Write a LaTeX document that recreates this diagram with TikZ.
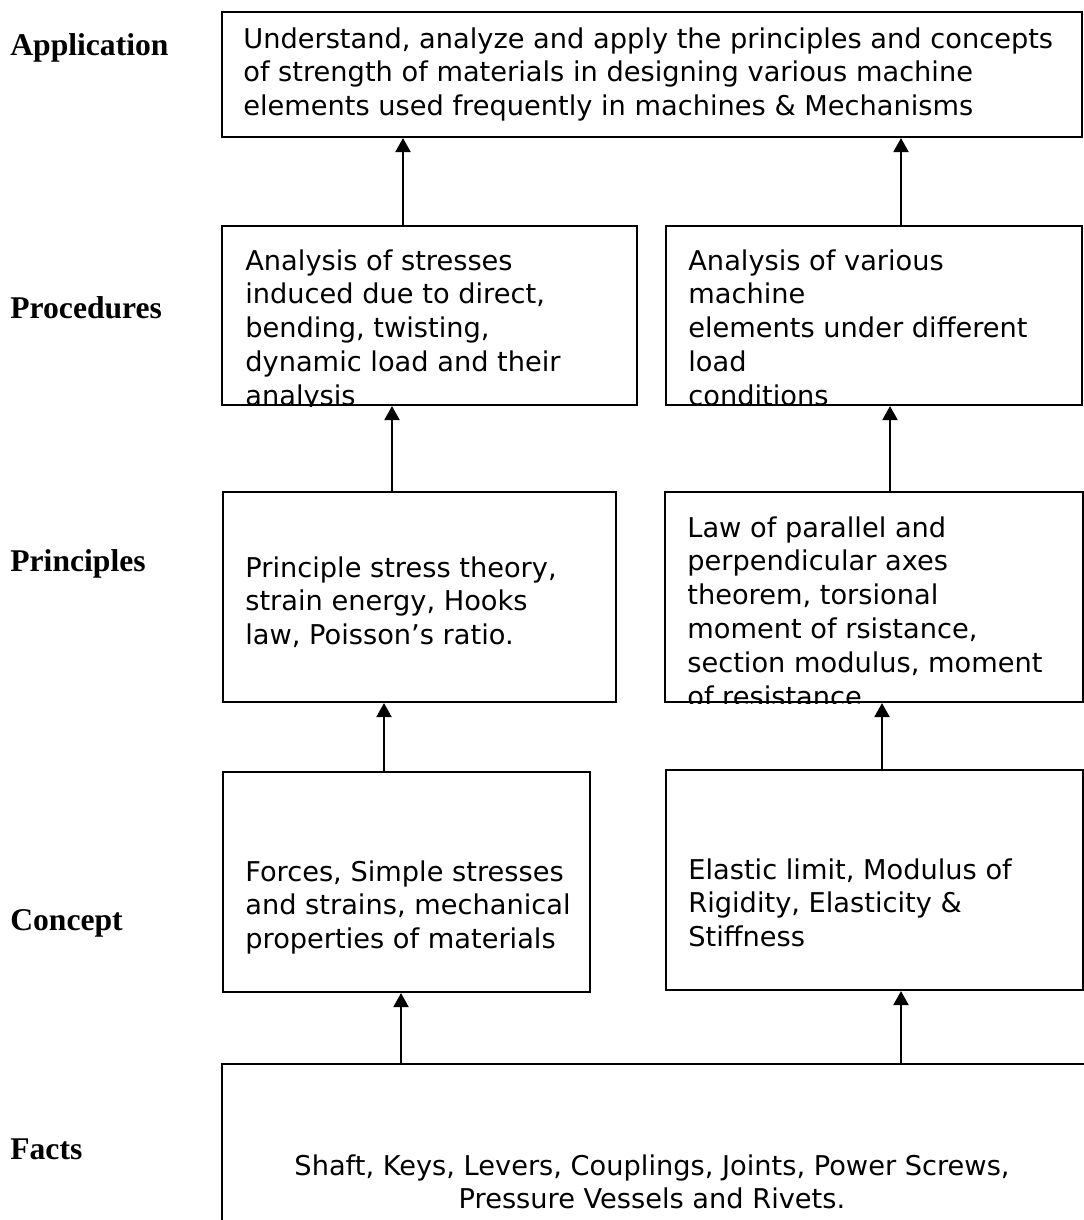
\documentclass[tikz,border=0pt]{standalone}
\usepackage{fontspec}
\setmainfont{Liberation Serif}
\newfontfamily\boxfont{DejaVu Sans}
\usetikzlibrary{arrows.meta,fit}
\tikzset{
  box/.style={rectangle, draw=black, line width=1.2pt, inner sep=0pt, fill=white},
  txt/.style={inner sep=0pt, align=left, font=\boxfont\fontsize{15.5}{19.3}\selectfont},
  lvl/.style={anchor=west, inner sep=0pt, font=\fontsize{18}{20}\selectfont\bfseries},
  flow/.style={-{Triangle[length=0.28cm, width=0.3cm]}, line width=1.2pt},
}
\begin{document}
\begin{tikzpicture}[x=0.02cm, y=-0.02cm]
\useasboundingbox (0,0) rectangle (1084,1220);

% level labels
\node[lvl] (lapp) at (10,48)    {Application};
\node[lvl] (lpro) at (10,308)   {Procedures};
\node[lvl] (lpri) at (10,564)   {Principles};
\node[lvl] (lcon) at (10,923)   {Concept};
\node[lvl] (lfac) at (10,1149)  {Facts};

% boxes
\node[box, fit={(222,12) (1082,137)}]   (app)  {};
\node[box, fit={(222,226) (637,405)}]   (proL) {};
\node[box, fit={(666,226) (1082,405)}]  (proR) {};
\node[box, fit={(223,492) (616,702)}]   (priL) {};
\node[box, fit={(665,492) (1083,702)}]  (priR) {};
\node[box, fit={(223,772) (590,992)}]   (conL) {};
\node[box, fit={(666,770) (1083,990)}]  (conR) {};
\node[box, fit={(222,1064) (1088,1300)}] (fac) {};

% texts, cut off at the box edges
\begin{scope}
  \clip (app.north west) rectangle (app.south east);
  \node[txt, anchor=north west] (tapp) at (243,27)
    {Understand, analyze and apply the principles and concepts\\
     of strength of materials in designing various machine\\
     elements used frequently in machines \& Mechanisms};
\end{scope}
\begin{scope}
  \clip (proL.north west) rectangle (proL.south east);
  \node[txt, anchor=north west] (tproL) at (245,249)
    {Analysis of stresses\\induced due to direct,\\bending, twisting,\\dynamic load and their\\analysis};
\end{scope}
\begin{scope}
  \clip (proR.north west) rectangle (proR.south east);
  \node[txt, anchor=north west] (tproR) at (688,249)
    {Analysis of various\\machine\\elements under different\\load\\conditions};
\end{scope}
\begin{scope}
  \clip (priL.north west) rectangle (priL.south east);
  \node[txt, anchor=north west] (tpriL) at (245,556)
    {Principle stress theory,\\strain energy, Hooks\\law, Poisson’s ratio.};
\end{scope}
\begin{scope}
  \clip (priR.north west) rectangle (priR.south east);
  \node[txt, anchor=north west] (tpriR) at (687,516)
    {Law of parallel and\\perpendicular axes\\theorem, torsional\\moment of rsistance,\\section modulus, moment\\of resistance};
\end{scope}
\node[txt, anchor=north west] (tconL) at (245,860)
  {Forces, Simple stresses\\and strains, mechanical\\properties of materials};
\node[txt, anchor=north west] (tconR) at (688,858)
  {Elastic limit, Modulus of\\Rigidity, Elasticity \&\\Stiffness};
\node[txt, anchor=north, align=center] (tfac) at (652,1154)
  {Shaft, Keys, Levers, Couplings, Joints, Power Screws,\\Pressure Vessels and Rivets.};

% arrows
\foreach \lo/\hi/\x in {proL/app/403, proR/app/901, priL/proL/392, priR/proR/890,
                        conL/priL/384, conR/priR/882, fac/conL/401, fac/conR/901}
  \draw[flow] (\lo.north -| \x,0) -- (\hi.south -| \x,0);
\end{tikzpicture}
\end{document}
